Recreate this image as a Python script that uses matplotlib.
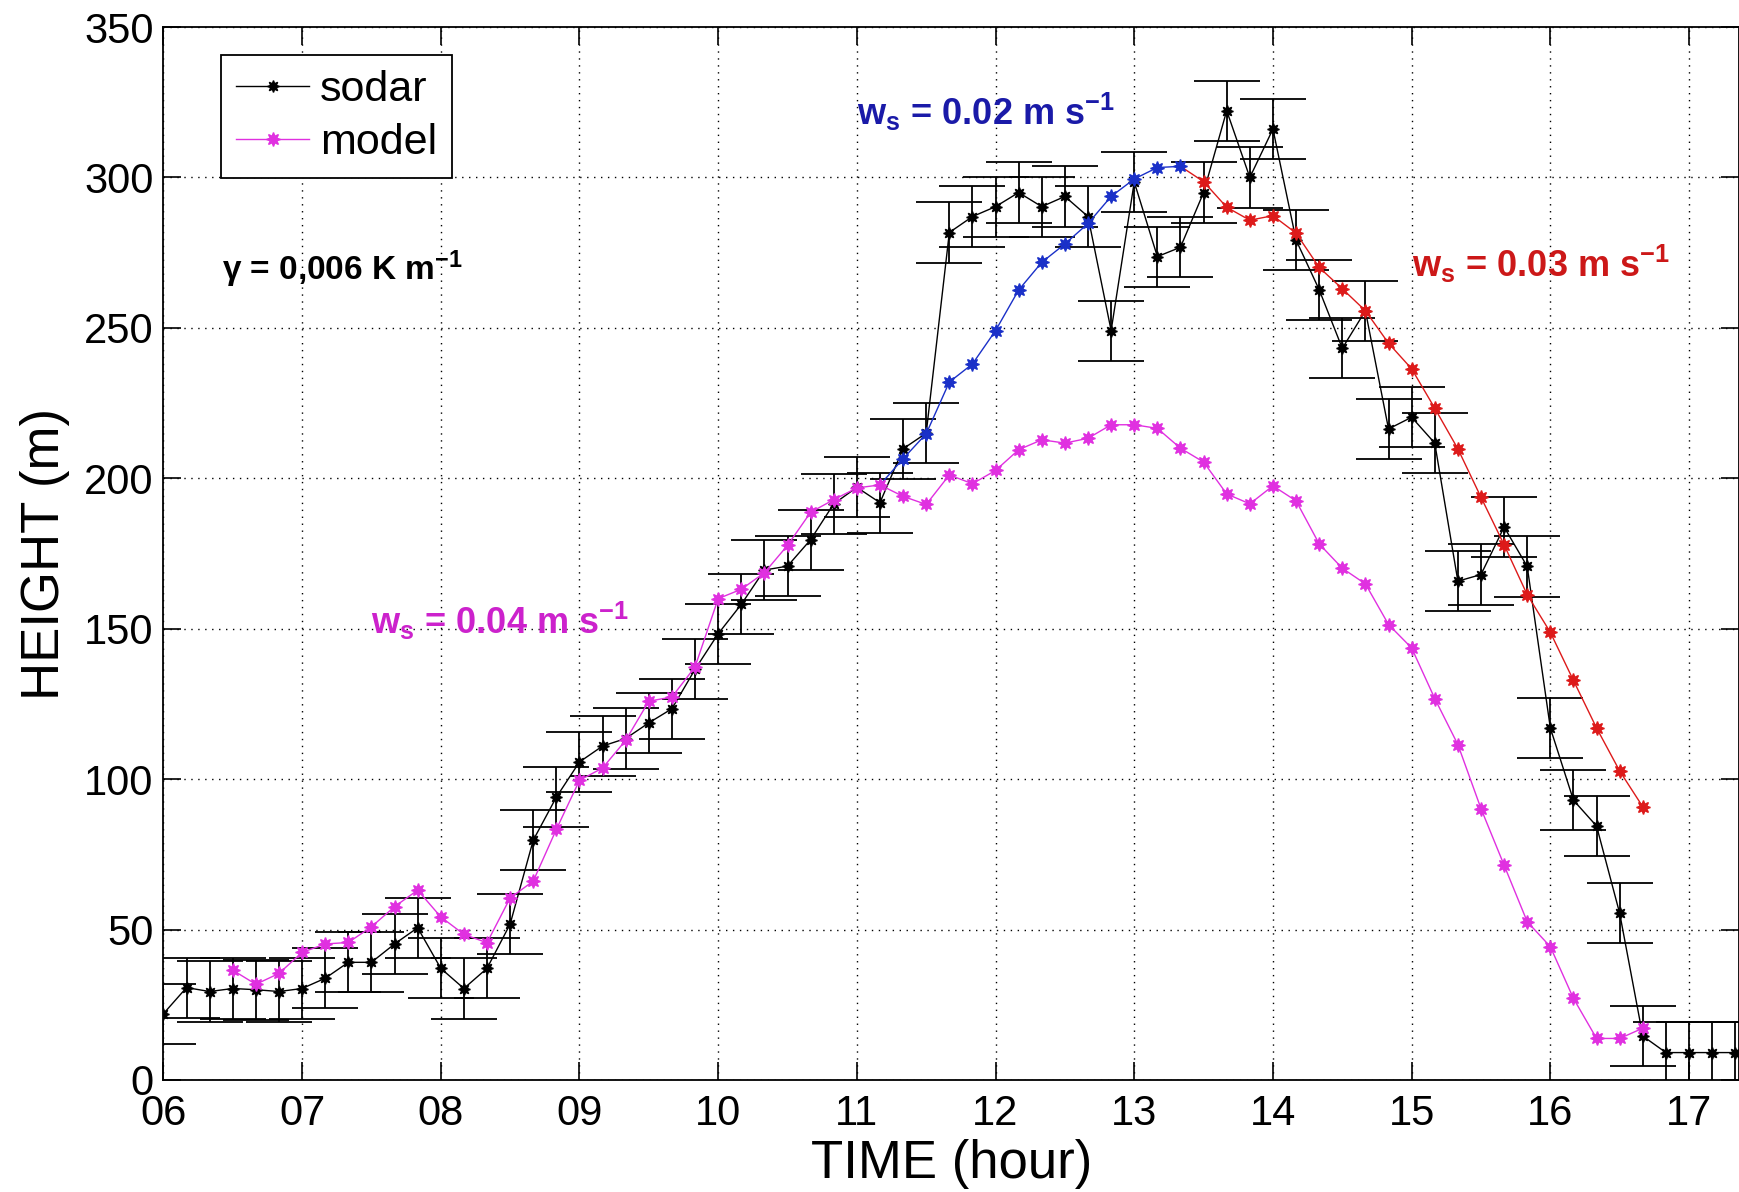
import numpy as np
import matplotlib.pyplot as plt

plt.rcParams['font.family'] = ['Liberation Sans', 'DejaVu Sans']
plt.rcParams['mathtext.fontset'] = 'custom'
plt.rcParams['mathtext.rm'] = 'Liberation Sans'
plt.rcParams['mathtext.it'] = 'Liberation Sans:italic'
plt.rcParams['mathtext.bf'] = 'Liberation Sans:bold'

# all series sampled every 10 min
step = 10 / 60

# sodar mixing height (m), from 06:00
sodar_start = 6.0
sodar_h = [22, 30.7, 29.4, 30.4, 30, 29.4, 30.4, 33.8, 39.1, 39.1, 45.2, 50.6,
           37.1, 30.4, 37.1, 51.8, 79.7, 94, 105.7, 111, 113.5, 118.7, 123.4,
           136.5, 148.3, 158.1, 169.5, 170.8, 179.6, 191.5, 197, 191.9, 209.8,
           215, 281.7, 287, 290.3, 295, 290.3, 293.7, 287, 249.1, 298.5, 273.7,
           276.8, 295, 322.2, 300, 316.1, 279.2, 262.7, 243.2, 255.7, 216.4,
           220.3, 211.7, 165.8, 168, 183.8, 170.7, 117, 93, 84.4, 55.4, 14.6,
           9.1, 9.1, 9.1, 9.1]
sodar_err = 10

# model, ws = 0.04 m/s, from 06:30
model_start = 6.5
model_h = [36.5, 31.8, 35.4, 42.4, 45.2, 45.7, 50.9, 57.6, 63.1, 54.2, 48.4,
           45.6, 60.5, 66.1, 83.3, 99.6, 103.7, 112.9, 125.9, 127.3, 137.3, 160,
           163.1, 168.6, 177.7, 188.7, 192.9, 196.8, 197.8, 194, 191.3, 201.1,
           198.2, 202.6, 209.5, 212.8, 211.7, 213.3, 217.8, 217.8, 216.6, 210,
           205.4, 194.8, 191.5, 197.5, 192.5, 178.2, 170.1, 164.9, 151.4, 143.6,
           126.8, 111.5, 90.2, 71.4, 52.6, 44.3, 27.1, 13.8, 13.8, 17.2]

# model, ws = 0.02 m/s, from 11:10 (first point shared with the 0.04 run)
ws02_start = 11 + 10 / 60
ws02_h = [197.8, 206.5, 214.8, 232, 238, 249.1, 262.6, 271.8, 277.9, 284.7,
          293.7, 299.5, 303.3, 303.7]

# model, ws = 0.03 m/s, from 13:20 (first point shared with the 0.02 run)
ws03_start = 13 + 20 / 60
ws03_h = [303.7, 298.6, 290.1, 285.8, 287.3, 281.5, 270.1, 263, 255.7, 244.9,
          236.4, 223.3, 209.8, 193.7, 177.9, 161.3, 148.8, 132.8, 117, 102.7,
          90.8]

hour_ticks = list(range(6, 18))
hour_labels = ['%02d' % h for h in hour_ticks]
height_ticks = list(range(0, 351, 50))


def times(start, values):
    return start + step * np.arange(len(values))


magenta = '#e030e0'
blue = '#1a30c8'
red = '#dd1a1a'
star = (8, 1, 0)

fig = plt.figure(figsize=(17.4, 11.92), dpi=100)
ax = fig.add_axes([0.0939, 0.094, 0.9055, 0.8833])

t_sodar = times(sodar_start, sodar_h)
ax.errorbar(t_sodar, sodar_h, yerr=sodar_err, fmt='none', ecolor='k',
            elinewidth=1.3, capsize=24, capthick=1.3, zorder=2)
l_sodar, = ax.plot(t_sodar, sodar_h, color='k', lw=1.0, marker=star,
                   ms=8.5, zorder=3, label='sodar')

ax.plot(times(ws03_start, ws03_h), ws03_h, color=red, lw=1.0, marker=star,
        ms=10, markevery=slice(1, None), zorder=4)
ax.plot(times(ws02_start, ws02_h), ws02_h, color=blue, lw=1.0, marker=star,
        ms=10, markevery=slice(1, None), zorder=4)
l_model, = ax.plot(times(model_start, model_h), model_h, color=magenta, lw=1.0,
                   marker=star, ms=10, zorder=5, label='model')

ax.set_xlim(6, 17.36)
ax.set_ylim(0, 350)
ax.set_xticks(hour_ticks)
ax.set_xticklabels(hour_labels)
ax.set_yticks(height_ticks)
ax.grid(True, color='k', linestyle=(0, (1, 4)), linewidth=1.0)
ax.tick_params(direction='in', length=13, width=1.2, top=True, right=True,
               labelsize=30)
ax.tick_params(axis='x', pad=10)
ax.tick_params(axis='y', pad=7)
for s in ax.spines.values():
    s.set_linewidth(1.3)

ax.set_xlabel('TIME (hour)', fontsize=38, labelpad=4)
ax.set_ylabel('HEIGHT (m)', fontsize=38, labelpad=10)

leg = ax.legend(handles=[l_sodar, l_model], loc='upper left',
                bbox_to_anchor=(0.0366, 0.9734), borderaxespad=0,
                fontsize=31, handlelength=1.7, handletextpad=0.25,
                labelspacing=0.3, borderpad=0.35, fancybox=False,
                framealpha=1, edgecolor='k')
leg.get_frame().set_linewidth(1.3)

ax.text(11.0, 317.4, r'w$_{\mathbf{s}}$ = 0.02 m s$^{\mathbf{-1}}$',
        color='#1a1aa8', fontsize=26, fontweight='bold', va='baseline')
ax.text(15.0, 267, r'w$_{\mathbf{s}}$ = 0.03 m s$^{\mathbf{-1}}$',
        color='#cc1818', fontsize=26, fontweight='bold', va='baseline')
ax.text(7.5, 148.4, r'w$_{\mathbf{s}}$ = 0.04 m s$^{\mathbf{-1}}$',
        color='#cc22cc', fontsize=26, fontweight='bold', va='baseline')
ax.text(6.42, 265.9, 'γ = 0,006 K m' + r'$^{\mathbf{-1}}$',
        color='k', fontsize=24, fontweight='bold', va='baseline')

fig.savefig('out.png', dpi=100)
